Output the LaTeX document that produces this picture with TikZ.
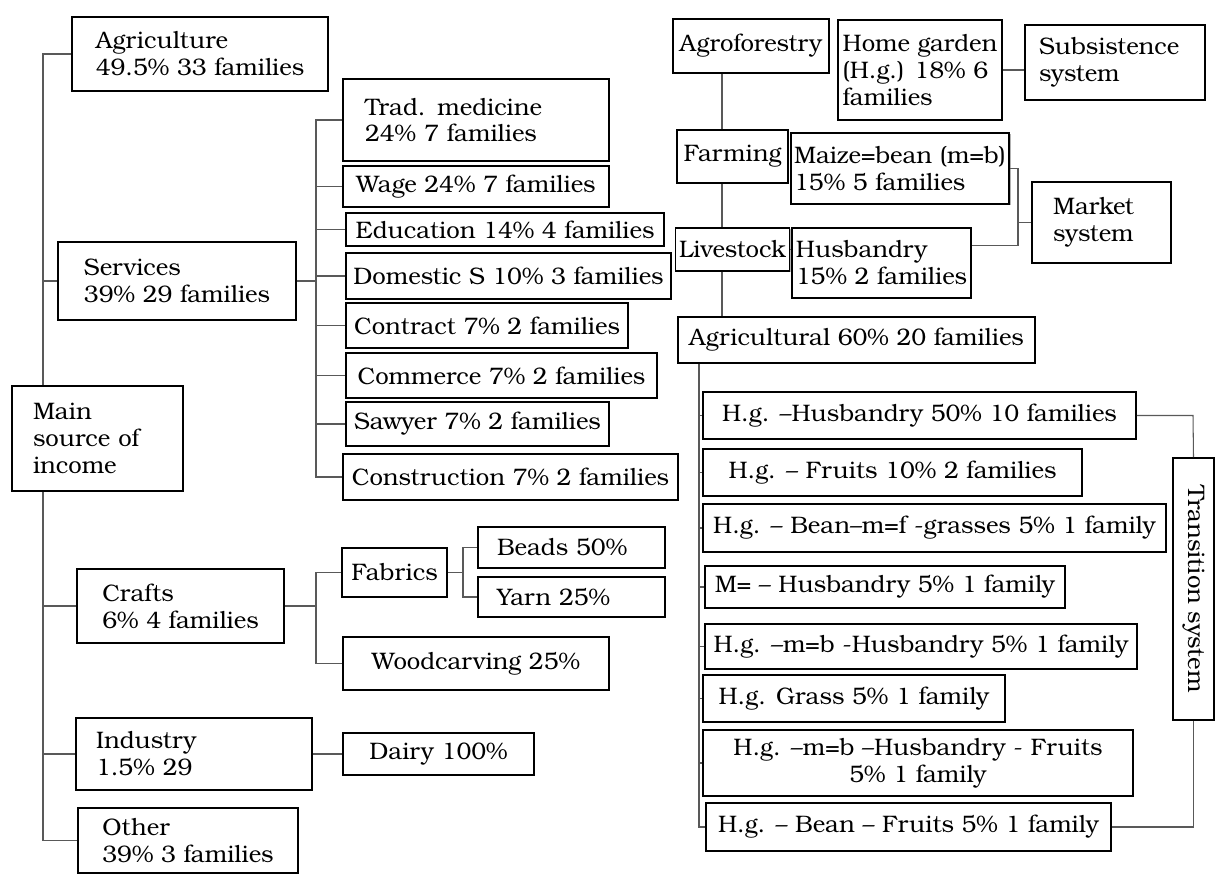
\documentclass[tikz,border=0pt]{standalone}
\usepackage{fontspec}
\setmainfont{texgyrebonum-regular.otf}
\usepackage{graphicx}
\usepackage{tikz}
\usetikzlibrary{shadows}

\begin{document}
\begin{tikzpicture}[x=0.02cm,y=-0.02cm,
    box/.style={draw,fill=white,line width=1.1pt,align=left,inner xsep=2pt,inner ysep=1pt,
      font=\fontsize{13.6}{15.3}\selectfont,
      drop shadow={shadow xshift=0.7pt,shadow yshift=-0.7pt,fill=black!60}},
    cbox/.style={box,align=center},
    link/.style={draw=black!65,line width=0.6pt}]

  \useasboundingbox (0,0) rectangle (1217,875);

  % income sources
  \coordinate (lt) at (43,0);
  \node[box] (agri) [minimum width=5.12cm,minimum height=1.48cm] at (200,54) {Agriculture\\49.5\% 33 families};
  \node[box] (serv) [minimum width=4.76cm,minimum height=1.56cm] at (177,281) {Services\\39\% 29 families};
  \node[box] (crafts) [minimum width=4.14cm,minimum height=1.48cm] at (180.5,606) {Crafts\\6\% 4 families};
  \node[box] (indus) [text width=3.92cm,inner xsep=0.4cm,minimum height=1.44cm] at (194,754) {Industry\\1.5\% 29};
  \node[box] (other) [minimum width=4.40cm,minimum height=1.30cm] at (188,840.5) {Other\\39\% 3 families};
  \draw[link] (agri.west) -- (agri.west -| lt) -- (other.west -| lt) -- (other.west);
  \foreach \n in {serv,crafts,indus}
    \draw[link] (\n.west) -- (\n.west -| lt);
  \node[box] (main) [text width=2.58cm,inner xsep=0.42cm,minimum height=2.10cm] at (97.5,438.5) {Main\\source of\\income};

  % services
  \coordinate (st) at (316,0);
  \node[box] (trad) [text width=4.44cm,inner xsep=0.44cm,minimum height=1.64cm] at (476,120) {Trad. medicine\\24\% 7 families};
  \node[cbox] (wage) [minimum width=5.32cm,minimum height=0.82cm] at (476,186.5) {Wage 24\% 7 families};
  \node[cbox] (edu) [minimum width=6.36cm,minimum height=0.66cm] at (505,229.5) {Education 14\% 4 families};
  \node[cbox] (dom) [minimum width=6.50cm,minimum height=0.92cm] at (508.5,276) {Domestic S 10\% 3 families};
  \node[cbox] (contr) [minimum width=5.64cm,minimum height=0.90cm] at (487,325.5) {Contract 7\% 2 families};
  \node[cbox] (comm) [minimum width=6.22cm,minimum height=0.90cm] at (501.5,375.5) {Commerce 7\% 2 families};
  \node[cbox] (saw) [minimum width=5.26cm,minimum height=0.88cm] at (477.5,424) {Sawyer 7\% 2 families};
  \node[cbox] (cons) [minimum width=6.70cm,minimum height=0.92cm] at (510.5,477) {Construction 7\% 2 families};
  \draw[link] (serv.east) -- (serv.east -| st);
  \draw[link] (trad.west) -- (trad.west -| st) -- (cons.west -| st) -- (cons.west);
  \foreach \n in {wage,edu,dom,contr,comm,saw}
    \draw[link] (\n.west) -- (\n.west -| st);

  % crafts and industry
  \coordinate (ft) at (463,0);
  \node[cbox] (fab) [minimum width=2.10cm,minimum height=0.98cm] at (394.5,572.5) {Fabrics};
  \node[box] (beads) [text width=2.98cm,inner xsep=0.38cm,minimum height=0.82cm] at (571.5,547.5) {Beads 50\%};
  \node[box] (yarn) [text width=2.98cm,inner xsep=0.38cm,minimum height=0.80cm] at (571.5,597) {Yarn 25\%};
  \node[cbox] (wood) [minimum width=5.32cm,minimum height=1.06cm] at (476,663.5) {Woodcarving 25\%};
  \node[cbox] (dairy) [minimum width=3.82cm,minimum height=0.84cm] at (438.5,754) {Dairy 100\%};
  \draw[link] (crafts.east) -- (crafts.east -| st);
  \draw[link] (fab.west) -- (fab.west -| st) -- (wood.west -| st) -- (wood.west);
  \draw[link] (fab.east) -- (fab.east -| ft);
  \draw[link] (beads.west) -- (beads.west -| ft) -- (yarn.west -| ft) -- (yarn.west);
  \draw[link] (indus.east) -- (dairy.west);

  % agroforestry
  \coordinate (rt) at (722,0);
  \coordinate (mt) at (1018,0);
  \node[cbox] (agro) [minimum width=3.12cm,minimum height=1.08cm] at (751,46) {Agroforestry};
  \node[box] (hg) [minimum width=3.28cm,minimum height=2.00cm] at (920,70) {Home garden\\(H.g.) 18\% 6\\families};
  \node[box] (subs) [text width=3.04cm,inner xsep=0.28cm,minimum height=1.50cm] at (1115,62.5) {Subsistence\\system};
  \node[cbox] (farm) [minimum width=2.22cm,minimum height=1.06cm] at (732.5,156.5) {Farming};
  \node[box] (maize) [minimum width=4.12cm,minimum height=1.42cm] at (900,168.5) {Maize=bean (m=b)\\15\% 5 families};
  \node[cbox] (live) [minimum width=2.22cm,minimum height=0.86cm] at (732.5,249.5) {Livestock};
  \node[box] (husb) [minimum width=3.38cm,minimum height=1.40cm] at (881.5,263) {Husbandry\\15\% 2 families};
  \node[box] (market) [text width=1.94cm,inner xsep=0.42cm,minimum height=1.62cm] at (1101.5,222.5) {Market\\system};
  \node[cbox] (agric) [minimum width=7.14cm,minimum height=0.92cm] at (856.5,340) {Agricultural 60\% 20 families};
  \draw[link] (agro.south -| rt) -- (farm.north -| rt);
  \draw[link] (farm.south -| rt) -- (live.north -| rt);
  \draw[link] (live.south -| rt) -- (agric.north -| rt);
  \draw[link] (hg.east) -- (hg.east -| subs.west);
  \draw[link] (live.east) -- (live.east -| husb.west);
  \draw[link] (maize.east) -- (maize.east -| mt) -- (husb.11 -| mt) -- (husb.11);
  \draw[link] (market.west) -- (market.west -| mt);

  % agricultural combinations
  \coordinate (gt) at (699,0);
  \coordinate (tt) at (1193,0);
  \node[cbox] (hgh) [minimum width=8.66cm,minimum height=0.94cm] at (919.5,415.5) {H.g. –Husbandry 50\% 10 families};
  \node[cbox] (hgf) [minimum width=7.58cm,minimum height=0.94cm] at (892.5,472.5) {H.g. – Fruits 10\% 2 families};
  \node[cbox] (hgb) [minimum width=9.26cm,minimum height=0.96cm] at (934.5,528) {H.g. – Bean–m=f -grasses 5\% 1 family};
  \node[cbox] (mh) [minimum width=7.20cm,minimum height=0.84cm] at (885,587) {M= – Husbandry 5\% 1 family};
  \node[cbox] (hgmb) [minimum width=8.64cm,minimum height=0.90cm] at (921,646.5) {H.g. –m=b -Husbandry 5\% 1 family};
  \node[cbox] (hgg) [minimum width=6.04cm,minimum height=0.94cm] at (854,698.5) {H.g. Grass 5\% 1 family};
  \node[cbox] (hgmbf) [minimum width=8.60cm,minimum height=1.32cm] at (918,763) {H.g. –m=b –Husbandry - Fruits\\5\% 1 family};
  \node[cbox] (hgbf) [minimum width=8.10cm,minimum height=0.96cm] at (908.5,827) {H.g. – Bean – Fruits 5\% 1 family};
  \node[cbox] (trans) [minimum width=0.82cm,minimum height=5.24cm] at (1193.5,589) {\rotatebox{-90}{Transition system}};
  \draw[link] (agric.south -| gt) -- (hgbf.west -| gt) -- (hgbf.west);
  \foreach \n in {hgh,hgf,hgb,mh,hgmb,hgg,hgmbf}
    \draw[link] (\n.west) -- (\n.west -| gt);
  \draw[link] (hgh.east) -- (hgh.east -| tt) -- (trans.north);
  \draw[link] (trans.south) -- (trans.south |- hgbf.east) -- (hgbf.east);

\end{tikzpicture}
\end{document}
